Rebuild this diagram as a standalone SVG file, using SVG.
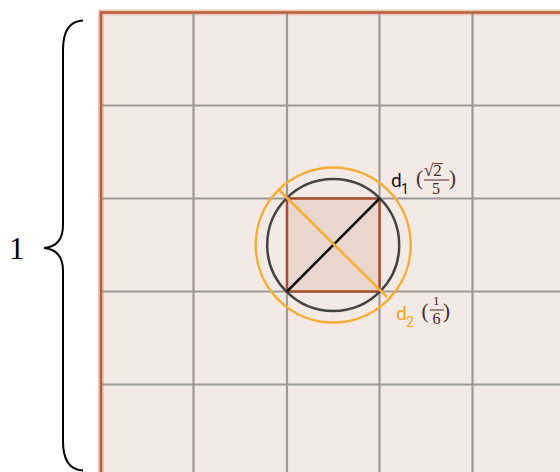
<svg xmlns="http://www.w3.org/2000/svg" width="560" height="472" viewBox="0 0 560 472">
<style>
.grid{stroke:#9e9a98;stroke-width:2.2;fill:none}
.sans{font-family:Roboto,"Liberation Sans",sans-serif}
.serif{font-family:"Liberation Serif","DejaVu Serif",serif;fill:#4a2626}
</style>
<rect width="560" height="472" fill="#ffffff"/>
<g id="board">
<rect x="101" y="12.5" width="465" height="465" fill="#f3e9e5" stroke="#e8c9bb" stroke-width="6"/>
<path class="grid" d="M193.5 12V472M287 12V472M379.5 12V472M472.5 12V472M101 105.5H560M101 198.5H560M101 291.5H560M101 384.5H560"/>
<rect x="101" y="12.5" width="465" height="465" fill="none" stroke="#b95f3a" stroke-width="2.5"/>
</g>
<g id="square">
<rect x="287" y="198.5" width="92.5" height="93" fill="#e9d6cc" stroke="#a24f2a" stroke-width="2.5"/>
</g>
<g id="circles">
<circle cx="333.2" cy="245" r="66" fill="none" stroke="#444" stroke-width="2.5"/>
<circle cx="333.2" cy="245" r="77.5" fill="none" stroke="#f7ad33" stroke-width="2.5"/>
</g>
<g id="connectors">
<line x1="287" y1="291.5" x2="379.5" y2="198.5" stroke="#111" stroke-width="2.5"/>
<line x1="278.5" y1="189.5" x2="387" y2="297" stroke="#f7ad33" stroke-width="2.5"/>
</g>
<g id="label-d1">
<text class="sans" x="391" y="187" font-size="19" fill="#111">d</text>
<text class="sans" x="401" y="194" font-size="14" fill="#111">1</text>
<text class="serif" x="416" y="185" font-size="21">(</text>
<text class="serif" x="424" y="176" font-size="17">√2</text>
<line x1="433.5" y1="163.6" x2="443" y2="163.6" stroke="#4a2626" stroke-width="0.9"/>
<line x1="424" y1="180" x2="449" y2="180" stroke="#4a2626" stroke-width="1"/>
<text class="serif" x="432" y="193.5" font-size="16">5</text>
<text class="serif" x="449" y="185" font-size="21">)</text>
</g>
<g id="label-d2">
<text class="sans" x="396" y="320" font-size="19" fill="#f7a21f">d</text>
<text class="sans" x="406" y="327" font-size="14" fill="#f7a21f">2</text>
<text class="serif" x="421.5" y="318" font-size="21">(</text>
<text class="serif" x="433" y="305" font-size="13">1</text>
<line x1="430" y1="310" x2="444" y2="310" stroke="#4a2626" stroke-width="1"/>
<text class="serif" x="432.5" y="324" font-size="16">6</text>
<text class="serif" x="443" y="318" font-size="21">)</text>
</g>
<g id="brace">
<path d="M83 20.5C70 21 63 30 63 50V225C63 240 56 247 44 248C56 249 63 256 63 271V441C63 461 70 470 83 470.5" fill="none" stroke="#000" stroke-width="2"/>
<text x="9" y="259" font-family="'Liberation Serif',serif" font-size="31" fill="#000">1</text>
</g>
</svg>
